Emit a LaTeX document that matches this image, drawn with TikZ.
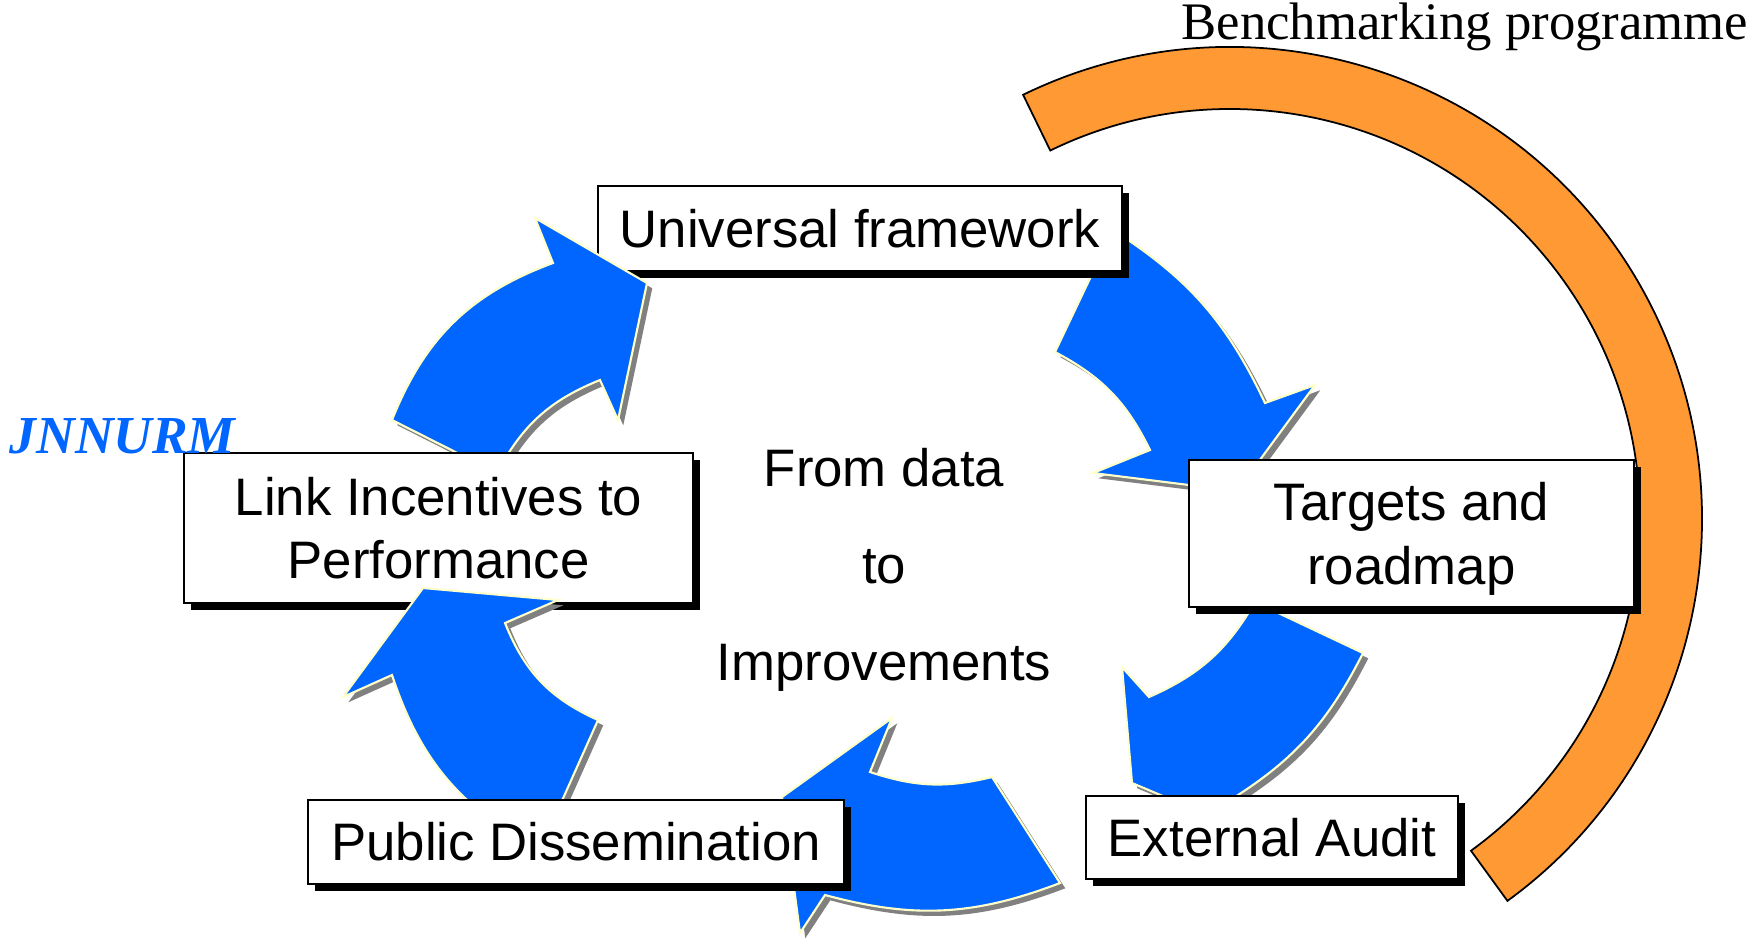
\documentclass[tikz,border=0pt]{standalone}
\usepackage{fontspec}
\setmainfont{Liberation Sans}
\newfontfamily\seriffont{Liberation Serif}
\usetikzlibrary{shadows}

\definecolor{cycleblue}{RGB}{0,102,255}
\definecolor{rimyellow}{RGB}{255,255,204}
\definecolor{bandorange}{RGB}{255,153,51}

\tikzset{
  stagebox/.style={draw=black, line width=0.6pt, fill=white, inner sep=0pt, align=center,
    font=\fontsize{15}{18}\selectfont,
    drop shadow={shadow xshift=2pt, shadow yshift=-2pt, fill=black, opacity=1}},
  cyclearrow/.style={fill=cycleblue, draw=rimyellow, line width=0.6pt,
    drop shadow={shadow xshift=1.5pt, shadow yshift=-1.5pt, fill=black!50, opacity=1}},
  band/.style={fill=bandorange, draw=black, line width=0.5pt},
}

\begin{document}
\begin{tikzpicture}[x=0.01cm, y=-0.01cm]

    \useasboundingbox (0,0) rectangle (1751,941);

    % programme band round the right side
    \coordinate (bandC) at (1230,519);
    \draw[band] ([shift={(-116:472)}]bandC) arc[start angle=-116, end angle=54, radius=472]
        -- ([shift={(54:410)}]bandC) arc[start angle=54, end angle=-116, radius=410] -- cycle;
    \node[font=\seriffont\fontsize{15}{18}\selectfont, anchor=base east, inner sep=0pt]
        (bench) at (1749,39) {Benchmarking programme};

    % framework -> targets, targets -> audit
    \draw[cyclearrow] (1113,230) to[bend left=16] (1265,403) -- (1315,385) -- (1237,491)
        -- (1093,473) -- (1150,450) to[bend right=18] (1055,352) -- cycle;
    \draw[cyclearrow] (1363,653) -- (1255,602) to[bend left=18] (1149,697) -- (1122,667)
        -- (1132,783) -- (1215,818) -- (1222,805) to[bend right=16] (1363,653) -- cycle;

    \node[stagebox, minimum width=5.24cm, minimum height=0.85cm] (frame) at (860,228.5) {Universal framework};

    % incentives -> framework
    \draw[cyclearrow] (392,420) to[bend left=24] (553,263) -- (535,218) -- (647,283)
        -- (618,420) -- (600,380) to[bend right=20] (497,473) -- cycle;

    \node[stagebox, minimum width=5.09cm, minimum height=1.50cm] (link) at (438.5,528) {Link Incentives to\\Performance};

    % audit -> dissemination, dissemination -> incentives
    \draw[cyclearrow] (1060,883) to[bend left=18] (825,895) -- (800,933) -- (782,797)
        -- (892,718) -- (870,772) to[bend right=16] (992,777) -- cycle;
    \draw[cyclearrow] (540,850) to[bend left=22] (392,675) -- (343,697) -- (423,588)
        -- (558,600) -- (505,623) to[bend right=22] (598,720) -- cycle;

    \node[stagebox, minimum width=5.36cm, minimum height=0.84cm] (public) at (576,842) {Public Dissemination};
    \node[stagebox, minimum width=4.45cm, minimum height=1.47cm, text depth=0pt] (target) at (1411.5,533.5) {Targets and\\roadmap};
    \node[stagebox, minimum width=3.72cm, minimum height=0.83cm] (audit) at (1272,837.5) {External Audit};

    \node[align=center, font=\fontsize{15}{18}\selectfont] (hub) at (884,570) {From data\\[9.5pt]to\\[9.5pt]Improvements};

    \node[font=\seriffont\bfseries\itshape\fontsize{15.2}{18}\selectfont, text=cycleblue,
        anchor=base west, inner sep=0pt] (jnnurm) at (9,453) {JNNURM};

\end{tikzpicture}
\end{document}
